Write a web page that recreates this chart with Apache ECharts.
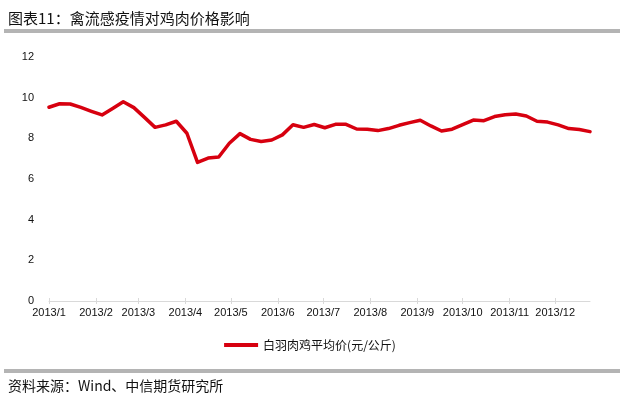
<!DOCTYPE html>
<html>
<head>
<meta charset="utf-8">
<script src="https://cdn.jsdelivr.net/npm/echarts@6/dist/echarts.min.js"></script>
<style>
html,body{margin:0;padding:0;background:#fff;}
#chart{width:620px;height:396px;}
</style>
</head>
<body>
<div id="chart"></div>
<script>
const titleText = '图表11：禽流感疫情对鸡肉价格影响';
const sourceText = '资料来源：Wind、中信期货研究所';
const seriesName = '白羽肉鸡平均价(元/公斤)';

const dates = [
  '2013-01-04','2013-01-11','2013-01-18','2013-01-25',
  '2013-02-01','2013-02-08','2013-02-15','2013-02-22',
  '2013-03-01','2013-03-08','2013-03-15','2013-03-22','2013-03-29',
  '2013-04-05','2013-04-12','2013-04-19','2013-04-26',
  '2013-05-03','2013-05-10','2013-05-17','2013-05-24','2013-05-31',
  '2013-06-07','2013-06-14','2013-06-21','2013-06-28',
  '2013-07-05','2013-07-12','2013-07-19','2013-07-26',
  '2013-08-02','2013-08-09','2013-08-16','2013-08-23','2013-08-30',
  '2013-09-06','2013-09-13','2013-09-20','2013-09-27',
  '2013-10-04','2013-10-11','2013-10-18','2013-10-25',
  '2013-11-01','2013-11-08','2013-11-15','2013-11-22','2013-11-29',
  '2013-12-06','2013-12-13','2013-12-20','2013-12-27'
];

const prices = [
  9.53, 9.70, 9.69, 9.52,
  9.33, 9.15, 9.47, 9.80,
  9.51, 9.03, 8.54, 8.66, 8.84,
  8.25, 6.82, 7.03, 7.08,
  7.76, 8.23, 7.95, 7.84, 7.92,
  8.17, 8.67, 8.54, 8.68,
  8.52, 8.69, 8.69, 8.46,
  8.45, 8.38, 8.48, 8.64, 8.77,
  8.89, 8.61, 8.36, 8.45,
  8.67, 8.90, 8.87, 9.07,
  9.16, 9.20, 9.10, 8.84, 8.80,
  8.66, 8.48, 8.43, 8.33
];

const tickDates = [
  '2013-01-04','2013-02-04','2013-03-04','2013-04-04','2013-05-04','2013-06-04',
  '2013-07-04','2013-08-04','2013-09-04','2013-10-04','2013-11-04','2013-12-04'
];
const tickLabels = [
  '2013/1','2013/2','2013/3','2013/4','2013/5','2013/6',
  '2013/7','2013/8','2013/9','2013/10','2013/11','2013/12'
];

// Daily category scaffold spanning the first to last data date (axis only)
function pad(n) { return (n < 10 ? '0' : '') + n; }
function dayList(startStr, endStr) {
  const out = [];
  const d = new Date(+startStr.slice(0, 4), +startStr.slice(5, 7) - 1, +startStr.slice(8, 10), 12);
  const end = new Date(+endStr.slice(0, 4), +endStr.slice(5, 7) - 1, +endStr.slice(8, 10), 12);
  while (d <= end) {
    out.push(d.getFullYear() + '-' + pad(d.getMonth() + 1) + '-' + pad(d.getDate()));
    d.setDate(d.getDate() + 1);
  }
  return out;
}
const days = dayList(dates[0], dates[dates.length - 1]);
function isTick(index, value) { return tickDates.indexOf(value) >= 0; }

const chart = echarts.init(document.getElementById('chart'), null, {renderer: 'canvas'});

const baseX = {
  type: 'category',
  data: days,
  boundaryGap: false,
  position: 'bottom',
  splitLine: {show: false}
};

chart.setOption({
  animation: false,
  backgroundColor: '#ffffff',
  title: [
    {
      text: titleText,
      left: 3,
      top: 6,
      textStyle: {fontFamily: 'Noto Sans CJK SC', fontSize: 15, fontWeight: 'normal', color: '#111'}
    },
    {
      text: sourceText,
      left: 3,
      top: 374,
      textStyle: {fontFamily: 'Noto Sans CJK SC', fontSize: 14, fontWeight: 'normal', color: '#111'}
    }
  ],
  graphic: [
    {type: 'rect', shape: {x: 4, y: 29, width: 616, height: 4}, style: {fill: '#b4b4b4'}},
    {type: 'rect', shape: {x: 4, y: 369, width: 616, height: 4}, style: {fill: '#b4b4b4'}}
  ],
  legend: {
    data: [seriesName],
    left: 'center',
    top: 334,
    icon: 'rect',
    itemWidth: 34,
    itemHeight: 4,
    textStyle: {fontFamily: 'Noto Sans CJK SC', fontSize: 12, color: '#111'}
  },
  grid: {left: 49, right: 30, top: 57, bottom: 95, containLabel: false},
  xAxis: [
    Object.assign({}, baseX, {
      axisLine: {show: true, lineStyle: {color: '#d9d9d9', width: 1}},
      axisTick: {show: true, inside: false, length: 3, interval: isTick, lineStyle: {color: '#d9d9d9'}},
      axisLabel: {
        show: true,
        interval: isTick,
        margin: 6,
        fontFamily: 'Liberation Sans',
        fontSize: 11,
        color: '#111',
        formatter: function (value) {
          const i = tickDates.indexOf(value);
          return i >= 0 ? tickLabels[i] : '';
        }
      }
    }),
    Object.assign({}, baseX, {
      axisLine: {show: false},
      axisTick: {show: true, inside: true, length: 3, interval: isTick, lineStyle: {color: '#d9d9d9'}},
      axisLabel: {show: false}
    })
  ],
  yAxis: {
    type: 'value',
    min: 0,
    max: 12,
    interval: 2,
    axisLine: {show: false},
    axisTick: {show: false},
    splitLine: {show: false},
    axisLabel: {margin: 15, fontFamily: 'Liberation Sans', fontSize: 11, color: '#111'}
  },
  series: [{
    name: seriesName,
    type: 'line',
    xAxisIndex: 0,
    data: dates.map((d, i) => [d, prices[i]]),
    showSymbol: false,
    symbol: 'none',
    lineStyle: {color: '#d7000f', width: 3.5, cap: 'round', join: 'round'},
    itemStyle: {color: '#d7000f'}
  }]
});
</script>
</body>
</html>
